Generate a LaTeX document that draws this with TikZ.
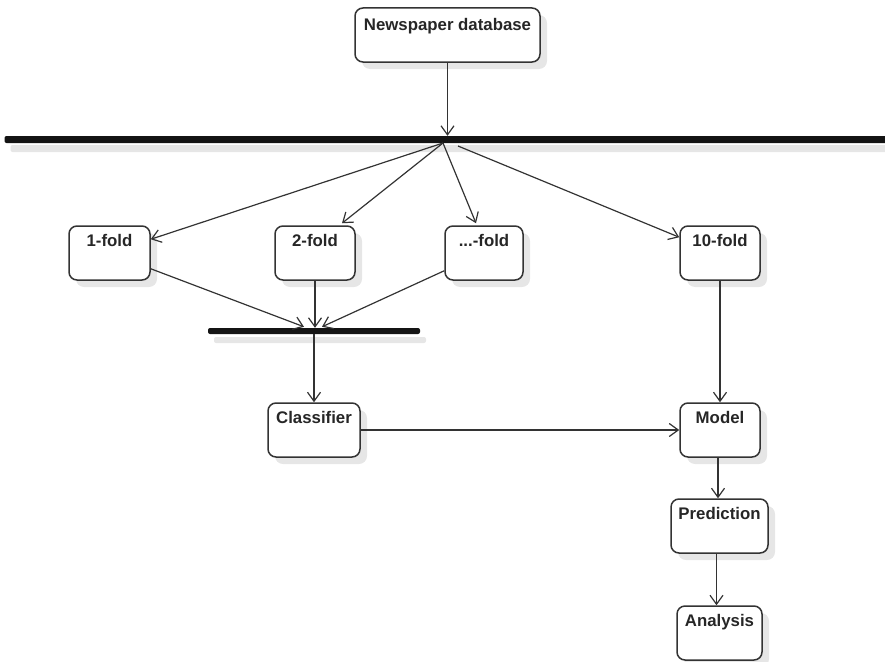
\documentclass[tikz,border=0pt]{standalone}
\usepackage{fontspec}
\setmainfont{Liberation Sans}
\usetikzlibrary{arrows.meta,shadows,calc}
\definecolor{edge}{HTML}{333333}
\definecolor{shade}{HTML}{E6E6E6}
\tikzset{
  act/.style={draw=edge, line width=1.5pt, rounded corners=8pt, fill=white,
    drop shadow={shadow xshift=7pt, shadow yshift=-7pt, fill=shade, opacity=1},
    minimum height=54pt, inner sep=0pt},
  bar/.style={fill=black!92, draw=none, rounded corners=2pt, inner sep=0pt,
    drop shadow={shadow xshift=6pt, shadow yshift=-9pt, fill=shade, opacity=1}},
  caption/.style={font=\bfseries\fontsize{16.8}{20}\selectfont, text=black!85, anchor=north, inner sep=0pt},
  flow/.style={draw=edge, line width=1.2pt, -{Straight Barb[length=9pt,width=13pt,line width=1.2pt]}},
}
\begin{document}
\begin{tikzpicture}[x=1pt,y=-1pt]
\useasboundingbox (0,0) rectangle (885,661);
% activity boxes
\node[act, minimum width=185pt] (db)   at (447.5,35) {};
\node[act, minimum width=81pt]  (f1)   at (109.5,253) {};
\node[act, minimum width=80pt]  (f2)   at (315,253) {};
\node[act, minimum width=78pt]  (fn)   at (484,253) {};
\node[act, minimum width=80pt]  (f10)  at (720,253) {};
\node[act, minimum width=92pt]  (cls)  at (314,430) {};
\node[act, minimum width=80pt]  (mdl)  at (720,430) {};
\node[act, minimum width=97pt]  (pred) at (719.5,526) {};
\node[act, minimum width=85pt]  (ana)  at (719.5,633) {};
% captions at the top of each box
\node[caption] (tdb)   at ($(db.north)+(0,11)$)   {Newspaper database};
\node[caption] (tf1)   at ($(f1.north)+(0,8.5)$)   {1-fold};
\node[caption] (tf2)   at ($(f2.north)+(0,8.5)$)   {2-fold};
\node[caption] (tfn)   at ($(fn.north)+(0,8.5)$)   {...-fold};
\node[caption] (tf10)  at ($(f10.north)+(0,8.5)$)  {10-fold};
\node[caption] (tcls)  at ($(cls.north)+(0,8.5)$)  {Classifier};
\node[caption] (tmdl)  at ($(mdl.north)+(0,8.5)$)  {Model};
\node[caption] (tpred) at ($(pred.north)+(0,8.5)$) {Prediction};
\node[caption] (tana)  at ($(ana.north)+(0,8.5)$)  {Analysis};
% fork and join bars
\node[bar, minimum width=885pt, minimum height=7pt] (fork) at (447,139.5) {};
\node[bar, minimum width=212pt, minimum height=6pt] (join) at (314,331) {};
% connectors
\draw[flow] (db.south) -- (db.south |- fork.north);
\coordinate (fo) at (443,143);
\draw[flow] (fo) -- ($(f1.north east)+(0,14)$);
\draw[flow] (fo) -- ($(f2.north)+(27,-2)$);
\draw[flow] (fo) -- ($(fn.north)+(-8,-2)$);
\draw[flow] (458,146) -- ($(f10.north west)+(0,12)$);
\draw[flow] ($(f1.south east)+(0,-12)$) -- ($(join.north)+(-10,-1)$);
\draw[flow] (f2.south) -- (f2.south |- join.north);
\draw[flow] ($(fn.south west)+(0,-10)$) -- ($(join.north)+(8,-1)$);
\draw[flow] (join.south -| cls.north) -- (cls.north);
\draw[flow] (cls.east) -- (mdl.west);
\draw[flow] (f10.south) -- (mdl.north);
\draw[flow] ($(mdl.south)+(-2,0)$) -- ($(mdl.south |- pred.north)+(-2,0)$);
\draw[flow] ($(pred.south)+(-3,0)$) -- ($(pred.south |- ana.north)+(-3,0)$);
\end{tikzpicture}
\end{document}
